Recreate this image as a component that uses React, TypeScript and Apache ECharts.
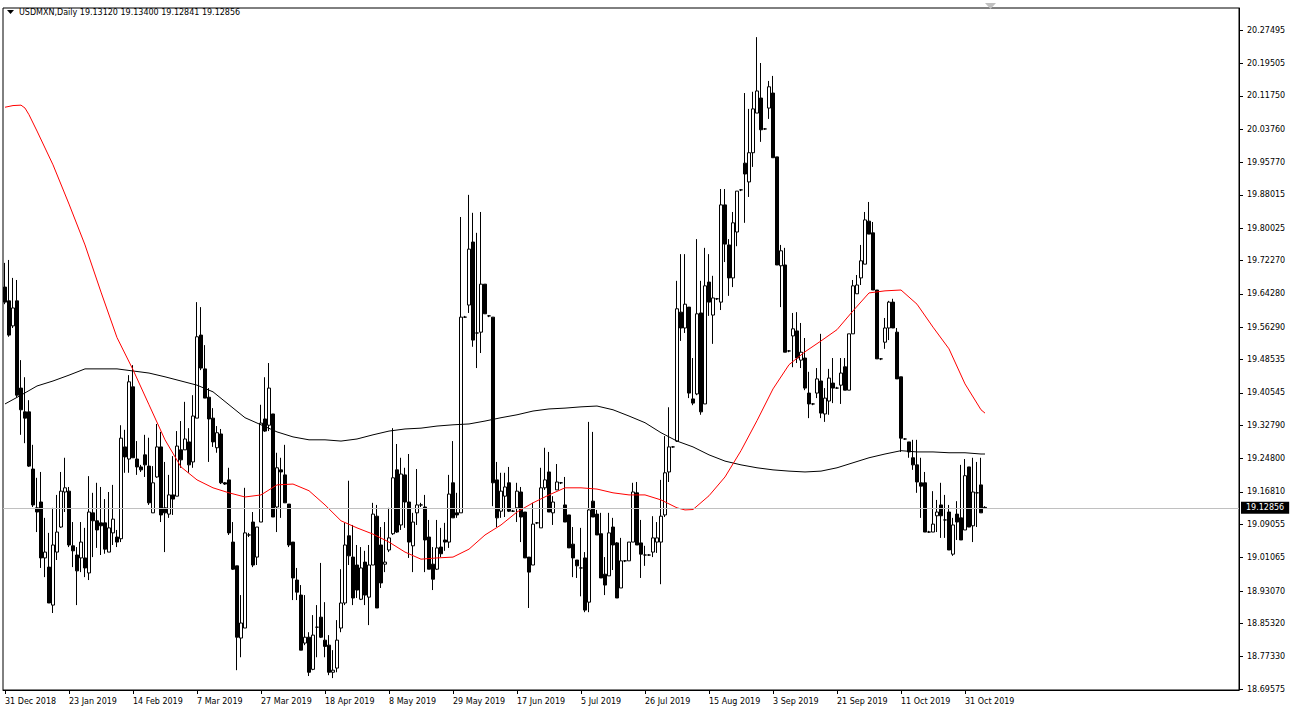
import React, { useEffect, useRef } from "react";
import * as echarts from "echarts";

const symbolName = "USDMXN,Daily";

const opens = [
  19.659, 19.626, 19.566, 19.626, 19.417, 19.360, 19.360, 19.223, 19.130, 19.144,
  19.010, 18.988, 18.897, 19.024, 19.084, 19.168, 19.170, 19.039, 19.017, 19.010,
  19.010, 18.974, 19.118, 19.099, 19.094, 19.094, 19.024, 19.070, 19.060, 19.056,
  19.276, 19.247, 19.420, 19.247, 19.228, 19.257, 19.230, 19.118, 19.204, 19.276,
  19.130, 19.115, 19.161, 19.158, 19.269, 19.269, 19.288, 19.240, 19.345, 19.544,
  19.463, 19.395, 19.345, 19.274, 19.307, 19.190, 19.197, 19.048, 18.991, 18.818,
  18.842, 19.065, 19.096, 19.012, 19.096, 19.343, 19.328, 19.355, 19.132, 19.221,
  19.209, 19.139, 19.048, 18.957, 18.921, 18.806, 18.820, 18.743, 18.844, 18.868,
  18.813, 18.801, 18.736, 18.746, 18.842, 18.902, 19.063, 19.012, 18.993, 18.911,
  19.000, 18.916, 18.993, 19.110, 19.041, 18.995, 19.029, 19.068, 19.221, 19.089,
  19.209, 19.144, 19.039, 19.118, 19.137, 19.132, 19.060, 18.995, 18.983, 19.036,
  19.053, 19.048, 19.190, 19.118, 19.118, 19.587, 19.616, 19.767, 19.549, 19.551,
  19.666, 19.590, 19.587, 19.197, 19.122, 19.158, 19.190, 19.122, 19.130, 19.168,
  19.120, 19.012, 18.993, 19.094, 19.082, 19.178, 19.216, 19.118, 19.173, 19.190,
  19.137, 19.113, 19.043, 19.005, 18.986, 19.010, 18.904, 19.146, 19.115, 19.068,
  18.971, 18.967, 19.084, 19.046, 18.938, 19.003, 19.003, 19.048, 19.166, 19.046,
  19.017, 19.017, 19.024, 19.048, 19.048, 19.113, 19.216, 19.276, 19.290, 19.599,
  19.561, 19.611, 19.391, 19.403, 19.597, 19.379, 19.671, 19.592, 19.631, 19.623,
  19.856, 19.760, 19.681, 19.791, 19.892, 19.956, 19.911, 19.981, 20.076, 20.112,
  20.038, 20.088, 20.124, 19.971, 19.710, 19.712, 19.506, 19.542, 19.554, 19.484,
  19.489, 19.405, 19.379, 19.405, 19.434, 19.355, 19.386, 19.429, 19.417, 19.424,
  19.468, 19.412, 19.547, 19.643, 19.681, 19.714, 19.817, 19.789, 19.652, 19.487,
  19.527, 19.561, 19.623, 19.551, 19.444, 19.295, 19.288, 19.250, 19.233, 19.190,
  19.190, 19.072, 19.072, 19.111, 19.137, 19.101, 19.120, 19.019, 19.115, 19.106,
  19.077, 19.228, 19.087, 19.166, 19.185, 19.1312,
];

const closes = [
  19.623, 19.544, 19.609, 19.400, 19.365, 19.345, 19.230, 19.137, 19.120, 19.010,
  19.024, 18.902, 19.041, 19.072, 19.170, 19.178, 19.041, 19.027, 18.979, 19.048,
  18.986, 19.120, 19.099, 19.077, 19.087, 19.031, 19.082, 19.103, 19.048, 19.297,
  19.252, 19.432, 19.250, 19.228, 19.221, 19.233, 19.142, 19.190, 19.276, 19.113,
  19.118, 19.161, 19.151, 19.278, 19.245, 19.295, 19.233, 19.350, 19.540, 19.465,
  19.393, 19.343, 19.288, 19.310, 19.190, 19.187, 19.070, 18.983, 18.820, 18.854,
  19.070, 19.065, 18.993, 19.084, 19.333, 19.314, 19.417, 19.108, 19.226, 19.216,
  19.142, 19.041, 18.962, 18.928, 18.789, 18.820, 18.736, 18.825, 18.844, 18.820,
  18.798, 18.736, 18.741, 18.813, 18.902, 19.041, 19.015, 18.914, 18.933, 18.986,
  18.921, 18.993, 19.115, 18.890, 18.950, 19.000, 19.058, 19.202, 19.072, 19.211,
  19.144, 19.048, 19.096, 19.137, 19.137, 19.053, 18.983, 18.959, 19.034, 19.020,
  19.048, 19.163, 19.106, 19.113, 19.587, 19.587, 19.750, 19.532, 19.549, 19.666,
  19.595, 19.590, 19.190, 19.106, 19.170, 19.180, 19.122, 19.122, 19.170, 19.108,
  19.010, 18.976, 19.091, 19.094, 19.178, 19.197, 19.120, 19.144, 19.192, 19.190,
  19.096, 19.034, 19.010, 18.991, 18.986, 18.885, 19.125, 19.108, 19.065, 18.962,
  18.945, 19.070, 19.041, 18.914, 19.003, 19.003, 19.048, 19.168, 19.041, 19.019,
  19.017, 19.017, 19.058, 19.058, 19.110, 19.214, 19.276, 19.276, 19.607, 19.561,
  19.618, 19.405, 19.381, 19.595, 19.360, 19.662, 19.623, 19.633, 19.631, 19.856,
  19.762, 19.681, 19.813, 19.889, 19.892, 19.930, 19.981, 20.086, 20.129, 20.036,
  20.038, 20.139, 19.969, 19.712, 19.746, 19.503, 19.506, 19.559, 19.489, 19.503,
  19.417, 19.379, 19.379, 19.439, 19.357, 19.393, 19.441, 19.417, 19.417, 19.453,
  19.412, 19.547, 19.662, 19.664, 19.722, 19.820, 19.786, 19.652, 19.487, 19.487,
  19.561, 19.623, 19.561, 19.439, 19.297, 19.295, 19.264, 19.233, 19.192, 19.182,
  19.072, 19.072, 19.091, 19.120, 19.111, 19.101, 19.029, 19.089, 19.096, 19.053,
  19.207, 19.084, 19.168, 19.166, 19.118, 19.12856,
];

const lows = [
  19.618, 19.540, 19.561, 19.395, 19.305, 19.285, 19.228, 19.132, 19.072, 18.986,
  18.964, 18.902, 18.878, 19.005, 19.082, 19.120, 19.036, 18.988, 18.897, 18.976,
  18.964, 18.957, 19.012, 19.034, 19.017, 19.020, 19.024, 19.041, 19.036, 19.048,
  19.214, 19.214, 19.250, 19.209, 19.216, 19.204, 19.137, 19.118, 19.202, 19.096,
  19.024, 19.106, 19.113, 19.158, 19.226, 19.269, 19.214, 19.226, 19.345, 19.460,
  19.393, 19.240, 19.276, 19.262, 19.187, 19.185, 19.065, 18.981, 18.741, 18.772,
  18.842, 19.060, 18.988, 18.993, 19.096, 19.312, 19.314, 19.108, 19.072, 19.106,
  19.142, 19.036, 18.909, 18.909, 18.789, 18.801, 18.727, 18.741, 18.772, 18.818,
  18.772, 18.729, 18.722, 18.736, 18.832, 18.897, 18.993, 18.897, 18.914, 18.909,
  18.897, 18.849, 18.993, 18.890, 18.938, 18.976, 19.024, 19.065, 19.070, 19.077,
  19.082, 19.010, 18.976, 19.089, 19.132, 18.976, 18.983, 18.933, 18.981, 19.012,
  19.027, 19.034, 19.106, 19.106, 19.118, 19.585, 19.597, 19.516, 19.465, 19.501,
  19.595, 19.587, 19.134, 19.084, 19.106, 19.108, 19.120, 19.120, 19.096, 19.048,
  19.010, 18.890, 18.993, 19.091, 19.082, 19.173, 19.120, 19.089, 19.173, 19.187,
  19.096, 19.034, 18.964, 18.962, 18.918, 18.880, 18.880, 19.108, 19.065, 18.962,
  18.921, 18.967, 18.981, 18.914, 18.938, 19.000, 19.003, 19.048, 19.041, 18.962,
  18.991, 19.015, 19.012, 19.022, 18.947, 19.108, 19.192, 19.274, 19.288, 19.530,
  19.549, 19.393, 19.376, 19.400, 19.353, 19.379, 19.590, 19.523, 19.628, 19.604,
  19.719, 19.638, 19.659, 19.757, 19.889, 19.813, 19.875, 19.947, 20.076, 20.007,
  20.036, 20.062, 19.969, 19.712, 19.611, 19.503, 19.503, 19.467, 19.477, 19.465,
  19.412, 19.345, 19.376, 19.393, 19.345, 19.336, 19.353, 19.381, 19.415, 19.379,
  19.412, 19.412, 19.547, 19.643, 19.664, 19.714, 19.786, 19.652, 19.487, 19.484,
  19.511, 19.532, 19.561, 19.439, 19.264, 19.293, 19.250, 19.221, 19.166, 19.106,
  19.072, 19.070, 19.072, 19.072, 19.058, 19.058, 19.029, 19.015, 19.053, 19.053,
  19.077, 19.084, 19.048, 19.084, 19.118, 19.12841,
];

const highs = [
  19.717, 19.724, 19.681, 19.676, 19.484, 19.443, 19.388, 19.281, 19.202, 19.216,
  19.106, 19.070, 19.130, 19.161, 19.216, 19.250, 19.180, 19.096, 19.036, 19.096,
  19.082, 19.206, 19.166, 19.190, 19.180, 19.151, 19.168, 19.185, 19.077, 19.328,
  19.317, 19.448, 19.472, 19.290, 19.233, 19.305, 19.298, 19.230, 19.331, 19.312,
  19.240, 19.209, 19.254, 19.314, 19.338, 19.384, 19.321, 19.400, 19.623, 19.611,
  19.520, 19.417, 19.369, 19.326, 19.319, 19.192, 19.226, 19.096, 18.991, 18.921,
  19.178, 19.070, 19.120, 19.084, 19.377, 19.443, 19.477, 19.355, 19.262, 19.250,
  19.281, 19.139, 19.048, 18.986, 18.945, 18.921, 18.832, 18.873, 18.897, 18.998,
  18.904, 18.825, 18.789, 18.861, 18.983, 19.094, 19.195, 19.089, 19.041, 19.036,
  19.027, 19.041, 19.142, 19.137, 19.084, 19.096, 19.130, 19.321, 19.283, 19.250,
  19.226, 19.259, 19.118, 19.223, 19.142, 19.161, 19.101, 19.036, 19.101, 19.082,
  19.094, 19.209, 19.290, 19.166, 19.827, 19.590, 19.880, 19.837, 19.789, 19.839,
  19.666, 19.592, 19.587, 19.240, 19.214, 19.214, 19.228, 19.125, 19.190, 19.180,
  19.120, 19.012, 19.142, 19.096, 19.226, 19.274, 19.264, 19.158, 19.235, 19.192,
  19.204, 19.113, 19.084, 19.005, 19.082, 19.024, 19.336, 19.312, 19.125, 19.118,
  19.012, 19.118, 19.106, 19.048, 19.058, 19.005, 19.048, 19.190, 19.192, 19.101,
  19.039, 19.019, 19.110, 19.096, 19.197, 19.302, 19.371, 19.278, 19.674, 19.738,
  19.738, 19.611, 19.489, 19.774, 19.674, 19.753, 19.738, 19.686, 19.633, 19.894,
  19.894, 19.774, 19.839, 19.889, 19.894, 20.124, 20.086, 20.127, 20.258, 20.196,
  20.040, 20.153, 20.165, 19.971, 19.760, 19.753, 19.508, 19.597, 19.599, 19.573,
  19.537, 19.456, 19.381, 19.465, 19.547, 19.417, 19.463, 19.489, 19.420, 19.489,
  19.489, 19.547, 19.676, 19.688, 19.760, 19.839, 19.863, 19.815, 19.652, 19.489,
  19.585, 19.626, 19.631, 19.561, 19.444, 19.297, 19.288, 19.293, 19.293, 19.250,
  19.216, 19.075, 19.170, 19.149, 19.190, 19.161, 19.137, 19.106, 19.146, 19.233,
  19.247, 19.228, 19.250, 19.240, 19.250, 19.134,
];

// moving averages sampled along the bars: [barIndex, value]
const redMA = [
  [0, 20.090], [2, 20.094], [4, 20.095], [5, 20.088], [6, 20.072], [8, 20.033], [12, 19.952], [16, 19.858],
  [20, 19.760], [24, 19.647], [28, 19.538], [32, 19.461], [36, 19.377], [40, 19.293], [44, 19.228], [48, 19.197],
  [52, 19.178], [56, 19.166], [60, 19.156], [64, 19.161], [68, 19.185], [72, 19.187], [76, 19.171], [80, 19.137],
  [84, 19.099], [88, 19.082], [92, 19.067], [96, 19.048], [100, 19.024], [104, 19.007], [108, 19.010], [112, 19.012],
  [116, 19.031], [120, 19.065], [124, 19.089], [128, 19.120], [132, 19.142], [136, 19.161], [140, 19.178], [144, 19.178],
  [148, 19.175], [152, 19.166], [156, 19.161], [160, 19.161], [164, 19.149], [168, 19.130], [170, 19.125], [172, 19.126],
  [176, 19.159], [180, 19.204], [184, 19.267], [188, 19.339], [192, 19.415], [196, 19.473], [200, 19.504], [204, 19.530],
  [208, 19.557], [212, 19.602], [216, 19.645], [220, 19.650], [224, 19.652], [228, 19.618], [232, 19.563], [236, 19.511],
  [240, 19.427], [244, 19.365], [245, 19.357],
];

const blackMA = [
  [0, 19.379], [4, 19.400], [8, 19.422], [12, 19.434], [16, 19.448], [20, 19.463], [24, 19.463], [28, 19.463],
  [32, 19.458], [36, 19.453], [40, 19.444], [44, 19.434], [48, 19.424], [52, 19.408], [56, 19.377], [60, 19.346],
  [64, 19.329], [68, 19.312], [72, 19.300], [76, 19.293], [80, 19.293], [84, 19.290], [88, 19.295], [92, 19.305],
  [96, 19.314], [100, 19.319], [104, 19.321], [108, 19.326], [112, 19.329], [116, 19.331], [120, 19.338], [124, 19.346],
  [128, 19.353], [132, 19.362], [136, 19.367], [140, 19.369], [144, 19.372], [148, 19.374], [152, 19.365], [156, 19.350],
  [160, 19.334], [164, 19.310], [168, 19.290], [172, 19.276], [176, 19.257], [180, 19.242], [184, 19.233], [188, 19.226],
  [192, 19.221], [196, 19.218], [200, 19.216], [204, 19.218], [208, 19.226], [212, 19.238], [216, 19.250], [220, 19.259],
  [224, 19.267], [228, 19.264], [232, 19.264], [236, 19.262], [240, 19.262], [244, 19.259], [245, 19.259],
];

const dateLabels = [
  "31 Dec 2018", "23 Jan 2019", "14 Feb 2019", "7 Mar 2019", "27 Mar 2019", "18 Apr 2019",
  "8 May 2019", "29 May 2019", "17 Jun 2019", "5 Jul 2019", "26 Jul 2019", "15 Aug 2019",
  "3 Sep 2019", "21 Sep 2019", "11 Oct 2019", "31 Oct 2019",
];
const LABEL_EVERY = 16;

const priceTicks = [
  20.27495, 20.19505, 20.1175, 20.0376, 19.9577, 19.88015, 19.80025, 19.7227, 19.6428, 19.5629,
  19.48535, 19.40545, 19.3279, 19.248, 19.1681, 19.09055, 19.01065, 18.9307, 18.8532, 18.7733, 18.69575,
];
const yMin = 18.6935;
const yMax = 20.3278;
const TOTAL_SLOTS = 309; // bars + right chart shift

const FONT = "DejaVu Sans";
const FS = 8;

export default function App() {
  const ref = useRef<HTMLDivElement>(null);
  useEffect(() => {
    if (!ref.current) return;
    const chart = echarts.init(ref.current, null, { renderer: "svg" });
    const categories = Array.from({ length: TOTAL_SLOTS }, (_, i) => String(i));
    const candleData = opens.map((o, i) => [o, closes[i], lows[i], highs[i]]);
    const last = opens.length - 1;
    const header =
      symbolName + " " + opens[last].toFixed(5) + " " + highs[last].toFixed(5) + " " +
      lows[last].toFixed(5) + " " + closes[last].toFixed(5);
    const isLabelIdx = (i: number) => i % LABEL_EVERY === 0 && i / LABEL_EVERY < dateLabels.length;

    chart.setOption({
      animation: false,
      backgroundColor: "#ffffff",
      grid: { left: 3, right: 54, top: 8, bottom: 25, show: true, borderColor: "#000", borderWidth: 1, backgroundColor: "#fff" },
      xAxis: {
        type: "category",
        data: categories,
        boundaryGap: true,
        axisLine: { show: true, lineStyle: { color: "#000", width: 1 } },
        axisTick: { show: true, interval: (i: number) => isLabelIdx(i), alignWithLabel: true, length: 4, lineStyle: { color: "#000" } },
        axisLabel: {
          show: true,
          interval: (i: number) => isLabelIdx(i),
          formatter: (_v: string, i: number) => dateLabels[Math.floor(i / LABEL_EVERY)] ?? "",
          align: "left",
          color: "#000",
          fontFamily: FONT,
          fontSize: FS,
          margin: 7,
        },
        splitLine: { show: false },
      },
      yAxis: {
        type: "value",
        position: "right",
        min: yMin,
        max: yMax,
        scale: true,
        axisLine: { show: true, lineStyle: { color: "#000", width: 1 } },
        axisTick: { show: true, customValues: priceTicks, length: 4, lineStyle: { color: "#000" } },
        axisLabel: {
          show: true,
          customValues: priceTicks,
          formatter: (v: number) => v.toFixed(5),
          color: "#000",
          fontFamily: FONT,
          fontSize: FS,
          margin: 8,
          align: "left",
        },
        splitLine: { show: false },
      },
      series: [
        {
          type: "candlestick",
          data: candleData,
          barWidth: 3,
          itemStyle: { color: "#ffffff", color0: "#000000", borderColor: "#000000", borderColor0: "#000000", borderWidth: 1 },
          markLine: {
            silent: true,
            symbol: ["none", "none"],
            animation: false,
            lineStyle: { color: "#c0c0c0", width: 1, type: "solid" },
            label: {
              show: true,
              position: "end",
              distance: 2,
              formatter: closes[last].toFixed(5),
              color: "#fff",
              backgroundColor: "#000",
              padding: [2, 5, 2, 5],
              fontFamily: FONT,
              fontSize: FS,
            },
            data: [{ yAxis: closes[last] }],
          },
          z: 2,
        },
        {
          type: "line",
          data: blackMA,
          showSymbol: false,
          symbol: "none",
          lineStyle: { color: "#000000", width: 1 },
          z: 3,
        },
        {
          type: "line",
          data: redMA,
          showSymbol: false,
          symbol: "none",
          lineStyle: { color: "#ff0000", width: 1 },
          z: 4,
        },
      ],
      graphic: [
        { type: "polygon", shape: { points: [[7, 10], [14, 10], [10.5, 14]] }, style: { fill: "#000" } },
        { type: "text", left: 19, top: 8, style: { text: header, fill: "#000", font: `${FS}px "${FONT}"` } },
        { type: "polygon", shape: { points: [[985, 3], [996, 3], [990.5, 9]] }, style: { fill: "#c0c0c0" } },
      ],
    });
    return () => chart.dispose();
  }, []);
  return (
    <div
      ref={ref}
      style={{ position: "absolute", left: 0, top: 0, width: 1293, height: 715, background: "#fff" }}
    />
  );
}
